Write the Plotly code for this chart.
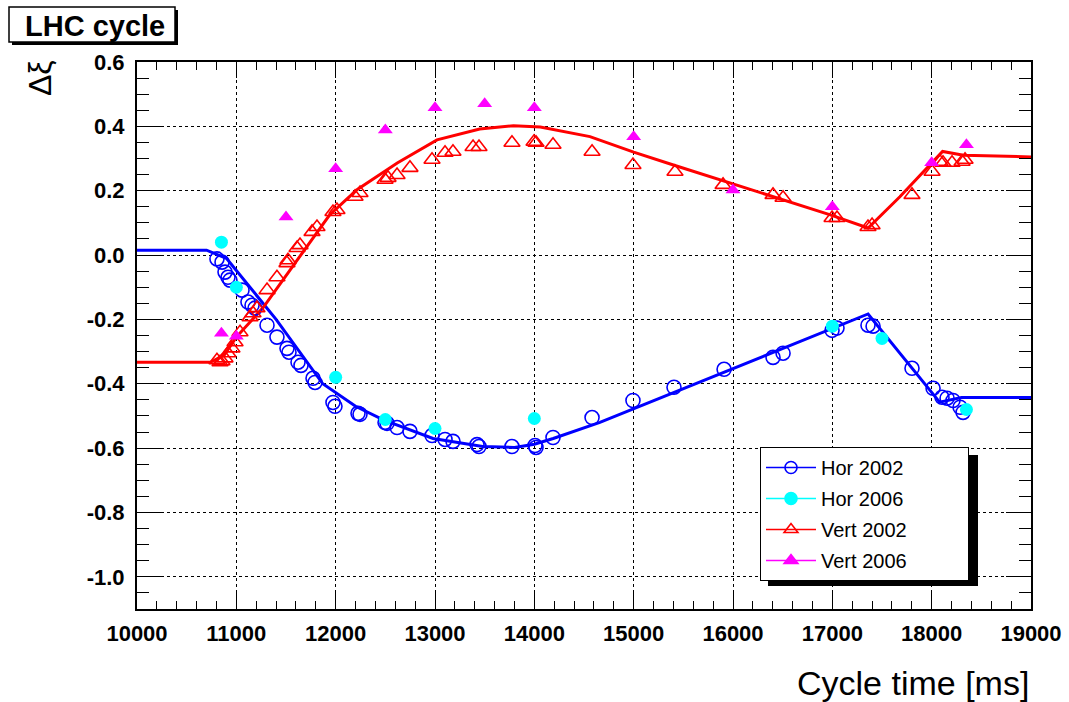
import plotly.graph_objects as go

# ---------------- data ----------------
# Hor 2002 (open circles)
hor02_x = [10805, 10856, 10886, 10916, 10936, 11057, 11117, 11158, 11188, 11309, 11409, 11510, 11530,
           11621, 11651, 11772, 11792, 11973, 11993, 12225, 12245, 12497, 12517, 12618, 12748, 12970,
           13101, 13181, 13423, 13443, 13775, 14007, 14017, 14188, 14581, 14993, 15406, 15910, 16403,
           16504, 16997, 17047, 17359, 17410, 17802, 18014, 18104, 18155, 18215, 18286, 18316]
hor02_y = [-0.012, -0.022, -0.053, -0.069, -0.078, -0.109, -0.146, -0.156, -0.165, -0.218, -0.255, -0.290, -0.302,
           -0.333, -0.343, -0.383, -0.396, -0.458, -0.470, -0.492, -0.495, -0.520, -0.523, -0.536, -0.548, -0.561,
           -0.573, -0.579, -0.589, -0.595, -0.595, -0.592, -0.598, -0.567, -0.505, -0.452, -0.411, -0.355, -0.318,
           -0.305, -0.234, -0.227, -0.218, -0.221, -0.352, -0.414, -0.442, -0.445, -0.452, -0.473, -0.489]

# Hor 2006 (filled circles)
hor06_x = [10850, 11000, 12000, 12500, 13000, 14000, 17000, 17500, 18350]
hor06_y = [0.040, -0.100, -0.380, -0.511, -0.539, -0.508, -0.221, -0.259, -0.480]

# Vert 2002 (open triangles)
vert02_x = [10805, 10836, 10856, 10886, 10916, 10956, 10987, 11037, 11138, 11168, 11208, 11309, 11409,
            11510, 11520, 11611, 11641, 11762, 11812, 11973, 12013, 12195, 12245, 12497, 12527, 12618,
            12748, 12970, 13101, 13181, 13383, 13443, 13775, 13997, 14017, 14188, 14581, 14993, 15416,
            15900, 16403, 16504, 16997, 17047, 17359, 17400, 17802, 18004, 18084, 18114, 18205, 18306, 18336]
vert02_y = [-0.327, -0.333, -0.330, -0.321, -0.305, -0.290, -0.271, -0.240, -0.193, -0.181, -0.165, -0.109, -0.069,
            -0.025, -0.016, 0.022, 0.031, 0.072, 0.087, 0.134, 0.140, 0.181, 0.193, 0.234, 0.240, 0.249,
            0.271, 0.296, 0.318, 0.321, 0.336, 0.336, 0.349, 0.352, 0.349, 0.343, 0.321, 0.280, 0.259,
            0.218, 0.187, 0.178, 0.115, 0.115, 0.087, 0.093, 0.187, 0.259, 0.290, 0.287, 0.287, 0.290, 0.296]

# Vert 2006 (filled triangles)
vert06_x = [10850, 11000, 11500, 12000, 12500, 13000, 13500, 14000, 15000, 16000, 17000, 18000, 18350]
vert06_y = [-0.243, -0.252, 0.118, 0.268, 0.389, 0.458, 0.470, 0.458, 0.368, 0.202, 0.150, 0.287, 0.343]

# Model curves
hor_fit_x = [10000, 10700, 10900, 11200, 11400, 11870, 12200, 12480, 12980, 13480, 13800, 14000, 14190, 14660,
             17360, 18080, 18300, 19000]
hor_fit_y = [0.015, 0.015, -0.010, -0.125, -0.200, -0.400, -0.470, -0.512, -0.570, -0.595, -0.598, -0.588,
             -0.570, -0.520, -0.183, -0.457, -0.443, -0.443]
vert_fit_x = [10000, 10740, 10880, 11000, 11270, 11640, 11940, 12215, 12620, 13020, 13450, 13790, 14060, 14560,
              15000, 15400, 15970, 16500, 16980, 17360, 17680, 18110, 18320, 19000]
vert_fit_y = [-0.333, -0.333, -0.310, -0.255, -0.163, -0.006, 0.125, 0.203, 0.286, 0.358, 0.392, 0.402, 0.398,
              0.368, 0.320, 0.280, 0.224, 0.171, 0.125, 0.084, 0.181, 0.322, 0.310, 0.305]

x_ticks = [10000, 11000, 12000, 13000, 14000, 15000, 16000, 17000, 18000, 19000]
x_ticklabels = ["10000", "11000", "12000", "13000", "14000", "15000", "16000", "17000", "18000", "19000"]
y_ticks = [0.6, 0.4, 0.2, 0.0, -0.2, -0.4, -0.6, -0.8, -1.0]
y_ticklabels = ["0.6", "0.4", "0.2", "0.0", "-0.2", "-0.4", "-0.6", "-0.8", "-1.0"]

BLUE, CYAN, RED, MAG = "#0000ff", "#00ffff", "#ff0000", "#ff00ff"
FONT = "Liberation Sans, Arial, sans-serif"

fig = go.Figure()

# fit lines
fig.add_trace(go.Scatter(x=hor_fit_x, y=hor_fit_y, mode="lines", line=dict(color=BLUE, width=3),
                         showlegend=False, hoverinfo="skip"))
fig.add_trace(go.Scatter(x=vert_fit_x, y=vert_fit_y, mode="lines", line=dict(color=RED, width=3),
                         showlegend=False, hoverinfo="skip"))

# data markers
fig.add_trace(go.Scatter(x=hor02_x, y=hor02_y, mode="markers", showlegend=False,
                         marker=dict(symbol="circle-open", size=14, color=BLUE, line=dict(width=1.6, color=BLUE))))
fig.add_trace(go.Scatter(x=hor06_x, y=hor06_y, mode="markers", showlegend=False,
                         marker=dict(symbol="circle", size=13, color=CYAN, line=dict(width=0))))
fig.add_trace(go.Scatter(x=vert02_x, y=vert02_y, mode="markers", showlegend=False,
                         marker=dict(symbol="triangle-up-open", size=14, color=RED, line=dict(width=1.6, color=RED))))
fig.add_trace(go.Scatter(x=vert06_x, y=vert06_y, mode="markers", showlegend=False,
                         marker=dict(symbol="triangle-up", size=13, color=MAG, line=dict(width=0))))

# legend entries
PAD = "\u00a0" * 10
leg = [("Hor 2002", BLUE, "circle-open"), ("Hor 2006", CYAN, "circle"),
       ("Vert 2002", RED, "triangle-up-open"), ("Vert 2006", MAG, "triangle-up")]
for i, (name, col, sym) in enumerate(leg):
    fig.add_trace(go.Scatter(x=[None], y=[None], mode="lines+markers", name=name + PAD, legendgroup=str(i),
                             line=dict(color=col, width=1.5),
                             marker=dict(symbol=sym, size=12, color=col, line=dict(width=1.6, color=col))))

# pixel -> paper helpers (plot area 137..1031 x 62..609)
L, R, T, B = 137, 1031, 62, 609
def px(x):
    return (x - L) / (R - L)
def py(y):
    return (B - y) / (B - T)

shapes = [
    # legend shadow
    dict(type="rect", xref="paper", yref="paper", x0=px(768), x1=px(978), y0=py(586), y1=py(455),
         fillcolor="black", line=dict(width=0), layer="above"),
    # title box shadow & box
    dict(type="rect", xref="paper", yref="paper", x0=px(12), x1=px(178), y0=py(45), y1=py(10),
         fillcolor="black", line=dict(width=0), layer="above"),
    dict(type="rect", xref="paper", yref="paper", x0=px(9), x1=px(175), y0=py(42), y1=py(7),
         fillcolor="white", line=dict(width=1.5, color="black"), layer="above"),
]

annotations = [
    dict(text="<b>LHC cycle</b>", xref="paper", yref="paper", x=px(95), y=py(26), showarrow=False,
         font=dict(family=FONT, size=29, color="black"), xanchor="center", yanchor="middle"),
    dict(text="Δξ", xref="paper", yref="paper", x=px(40), y=py(78), showarrow=False, textangle=-90,
         font=dict(family=FONT, size=32, color="black"), xanchor="center", yanchor="middle"),
    dict(text="Cycle time [ms]", xref="paper", yref="paper", x=1.0, y=py(683), showarrow=False,
         font=dict(family=FONT, size=34, color="black"), xanchor="right", yanchor="middle"),
]

axis_common = dict(showline=True, linecolor="black", linewidth=2, mirror="allticks",
                   ticks="inside", tickcolor="black", showgrid=True, gridcolor="black",
                   griddash="dot", gridwidth=1, zeroline=False, automargin=False,
                   tickfont=dict(family=FONT, size=22, color="black", weight="bold"))

fig.update_layout(
    width=1069, height=702,
    margin=dict(l=L, r=1069 - R, t=T, b=702 - B, autoexpand=False),
    paper_bgcolor="white", plot_bgcolor="white",
    font=dict(family=FONT, color="black"),
    xaxis=dict(range=[10000, 19000], tickvals=x_ticks, ticktext=x_ticklabels, ticklen=16, tickwidth=1,
               ticklabelstandoff=4,
               minor=dict(dtick=200, ticklen=8, tickcolor="black", ticks="inside", showgrid=False),
               **axis_common),
    yaxis=dict(range=[-1.1, 0.6], tickvals=y_ticks, ticktext=y_ticklabels, ticklen=25, tickwidth=1,
               ticklabelstandoff=6,
               minor=dict(dtick=0.05, ticklen=12, tickcolor="black", ticks="inside", showgrid=False),
               **axis_common),
    showlegend=True,
    legend=dict(x=px(760), y=py(447), xanchor="left", yanchor="top", bgcolor="white",
                bordercolor="black", borderwidth=1, font=dict(family=FONT, size=20, color="black"),
                traceorder="grouped", tracegroupgap=2, itemwidth=50),
    shapes=shapes, annotations=annotations,
)

fig.write_html("out.html")
